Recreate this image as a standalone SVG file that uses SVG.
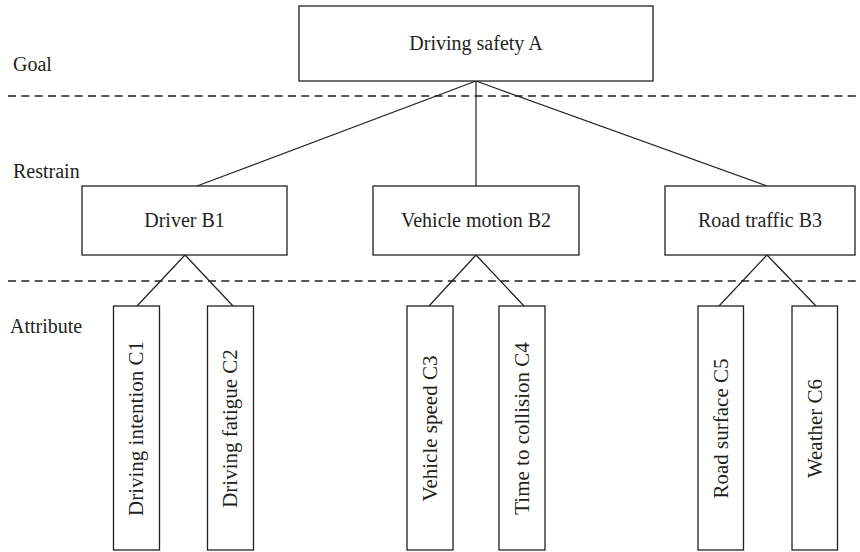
<svg xmlns="http://www.w3.org/2000/svg" width="860" height="552" viewBox="0 0 860 552">
<style>
.box{fill:#fff;stroke:#231f20;stroke-width:1.3}
.ln{stroke:#231f20;stroke-width:1.2;fill:none}
.dash{stroke:#231f20;stroke-width:1.3;stroke-dasharray:8 5.33;fill:none}
text{font-family:"Liberation Serif","Times New Roman",serif;font-size:20px;fill:#231f20}
.c{text-anchor:middle}
.v{font-size:21px}
</style>
<rect width="860" height="552" fill="#fff"/>
<g id="levels">
<line class="dash" x1="8" y1="96" x2="858" y2="96"/>
<line class="dash" x1="8" y1="281" x2="858" y2="281"/>
<text x="13" y="71">Goal</text>
<text x="13" y="178">Restrain</text>
<text x="10" y="333">Attribute</text>
</g>
<g id="connectors">
<line class="ln" x1="476" y1="81" x2="197" y2="186"/>
<line class="ln" x1="476" y1="81" x2="476" y2="186"/>
<line class="ln" x1="476" y1="81" x2="767" y2="186"/>
<line class="ln" x1="185" y1="255" x2="137" y2="306"/>
<line class="ln" x1="185" y1="255" x2="233" y2="306"/>
<line class="ln" x1="476" y1="255" x2="429" y2="306"/>
<line class="ln" x1="476" y1="255" x2="524" y2="306"/>
<line class="ln" x1="767" y1="255" x2="719" y2="306"/>
<line class="ln" x1="767" y1="255" x2="816" y2="306"/>
</g>
<g id="A">
<rect class="box" x="299" y="6" width="354" height="75"/>
<text class="c" x="476" y="50">Driving safety A</text>
</g>
<g id="B1">
<rect class="box" x="82" y="186" width="205" height="69"/>
<text class="c" x="184.5" y="227">Driver B1</text>
</g>
<g id="B2">
<rect class="box" x="373" y="186" width="206" height="69"/>
<text class="c" x="476" y="227">Vehicle motion B2</text>
</g>
<g id="B3">
<rect class="box" x="665" y="186" width="190" height="69"/>
<text class="c" x="760" y="227">Road traffic B3</text>
</g>
<g id="C1">
<rect class="box" x="113.5" y="306" width="46" height="244"/>
<text class="c v" transform="translate(143.4,428.5) rotate(-90)">Driving intention C1</text>
</g>
<g id="C2">
<rect class="box" x="207.5" y="306" width="46" height="244"/>
<text class="c v" transform="translate(237.4,428.5) rotate(-90)">Driving fatigue C2</text>
</g>
<g id="C3">
<rect class="box" x="407" y="306" width="46" height="244"/>
<text class="c v" transform="translate(436.9,428.5) rotate(-90)">Vehicle speed C3</text>
</g>
<g id="C4">
<rect class="box" x="499" y="306" width="46" height="244"/>
<text class="c v" transform="translate(528.9,428.5) rotate(-90)">Time to collision C4</text>
</g>
<g id="C5">
<rect class="box" x="698" y="306" width="45.5" height="244"/>
<text class="c v" transform="translate(727.7,428.5) rotate(-90)">Road surface C5</text>
</g>
<g id="C6">
<rect class="box" x="792" y="306" width="45.5" height="244"/>
<text class="c v" transform="translate(821.7,428.5) rotate(-90)">Weather C6</text>
</g>
</svg>
